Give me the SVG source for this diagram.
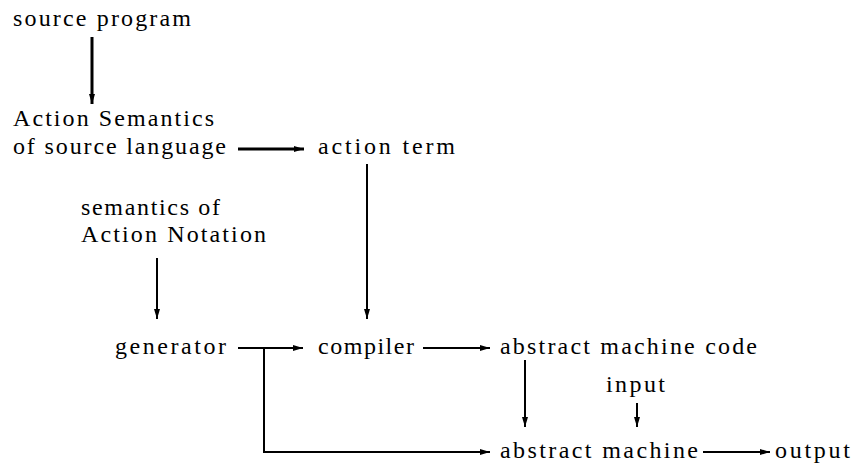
<svg xmlns="http://www.w3.org/2000/svg" width="855" height="466" viewBox="0 0 855 466" font-family="'Liberation Serif', Tinos, 'DejaVu Serif', 'Noto Serif', FreeSerif, serif">
<style>
text { font-family: 'Liberation Serif', Tinos, 'DejaVu Serif', 'Noto Serif', FreeSerif, serif; font-size: 24px; fill: #000; }
.thick { stroke: #000; stroke-width: 3; fill: none; }
.thin { stroke: #000; stroke-width: 2; fill: none; }
</style>
<defs>
<marker id="ah" viewBox="0 0 10 6" refX="10" refY="3" markerWidth="10" markerHeight="6" markerUnits="userSpaceOnUse" orient="auto">
<path d="M0,0 L10,3 L0,6 Z" fill="#000"/>
</marker>
</defs>
<rect width="855" height="466" fill="#fff"/>
<g id="source-program"><text x="13" y="26" textLength="178" lengthAdjust="spacing">source program</text></g>
<g id="action-semantics"><text x="13" y="126" textLength="201" lengthAdjust="spacing">Action Semantics</text><text x="13" y="154" textLength="213" lengthAdjust="spacing">of source language</text></g>
<g id="action-term"><text x="318" y="154" textLength="137" lengthAdjust="spacing">action term</text></g>
<g id="semantics-an"><text x="81" y="215" textLength="139" lengthAdjust="spacing">semantics of</text><text x="81" y="242" textLength="185" lengthAdjust="spacing">Action Notation</text></g>
<g id="generator"><text x="115" y="354" textLength="111" lengthAdjust="spacing">generator</text></g>
<g id="compiler"><text x="318" y="354" textLength="96" lengthAdjust="spacing">compiler</text></g>
<g id="abstract-machine-code"><text x="500" y="354" textLength="257" lengthAdjust="spacing">abstract machine code</text></g>
<g id="input"><text x="606" y="392" textLength="59" lengthAdjust="spacing">input</text></g>
<g id="abstract-machine"><text x="500" y="458" textLength="198" lengthAdjust="spacing">abstract machine</text></g>
<g id="output"><text x="775" y="458" textLength="75" lengthAdjust="spacing">output</text></g>
<g id="connectors">
<line class="thick" x1="92" y1="37" x2="92" y2="104" marker-end="url(#ah)"/>
<line class="thick" x1="238" y1="149" x2="304" y2="149" marker-end="url(#ah)"/>
<line class="thin" x1="367" y1="164" x2="367" y2="319" marker-end="url(#ah)"/>
<line class="thin" x1="157" y1="258" x2="157" y2="319" marker-end="url(#ah)"/>
<line class="thin" x1="238" y1="348" x2="303" y2="348" marker-end="url(#ah)"/>
<line class="thin" x1="423" y1="348" x2="490" y2="348" marker-end="url(#ah)"/>
<polyline class="thin" points="264,348 264,452 490,452" marker-end="url(#ah)"/>
<line class="thin" x1="525" y1="360" x2="525" y2="427" marker-end="url(#ah)"/>
<line class="thin" x1="637" y1="403" x2="637" y2="427" marker-end="url(#ah)"/>
<line class="thin" x1="703" y1="452" x2="770" y2="452" marker-end="url(#ah)"/>
</g>
</svg>
